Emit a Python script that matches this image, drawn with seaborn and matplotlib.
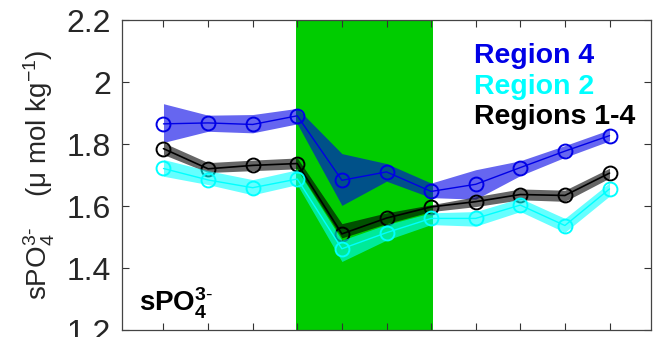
import matplotlib
matplotlib.use("Agg")
import matplotlib.pyplot as plt
import seaborn as sns
import numpy as np
import pandas as pd

# ---- data ----
x = [1, 2, 3, 4, 5, 6, 7, 8, 9, 10, 11]

r4_mean = [1.865, 1.868, 1.863, 1.891, 1.683, 1.710, 1.647, 1.670, 1.724, 1.777, 1.827]
r4_upper = [1.930, 1.893, 1.895, 1.915, 1.769, 1.737, 1.674, 1.717, 1.746, 1.795, 1.846]
r4_lower = [1.805, 1.841, 1.836, 1.865, 1.602, 1.680, 1.627, 1.622, 1.698, 1.757, 1.810]

all_mean = [1.785, 1.720, 1.731, 1.737, 1.510, 1.561, 1.597, 1.614, 1.637, 1.634, 1.706]
all_upper = [1.804, 1.740, 1.748, 1.755, 1.543, 1.578, 1.604, 1.630, 1.655, 1.651, 1.722]
all_lower = [1.766, 1.708, 1.714, 1.720, 1.497, 1.543, 1.582, 1.598, 1.620, 1.615, 1.690]

r2_mean = [1.721, 1.684, 1.659, 1.687, 1.462, 1.514, 1.560, 1.560, 1.603, 1.537, 1.655]
r2_upper = [1.750, 1.714, 1.685, 1.717, 1.490, 1.540, 1.578, 1.582, 1.625, 1.560, 1.675]
r2_lower = [1.696, 1.669, 1.636, 1.669, 1.421, 1.490, 1.540, 1.535, 1.582, 1.515, 1.632]

series_names = ["Region 4", "Region 2", "Regions 1-4"]
yticks = [1.2, 1.4, 1.6, 1.8, 2.0, 2.2]
ytick_labels = ["1.2", "1.4", "1.6", "1.8", "2", "2.2"]

# ---- style ----
sns.set_style("ticks")
plt.rcParams["font.family"] = ["Liberation Sans", "DejaVu Sans"]
plt.rcParams["mathtext.fontset"] = "custom"
plt.rcParams["mathtext.rm"] = "Liberation Sans"
plt.rcParams["mathtext.it"] = "Liberation Sans"
plt.rcParams["mathtext.bf"] = "Liberation Sans:bold"
plt.rcParams["mathtext.default"] = "regular"

fig = plt.figure(figsize=(6.54, 3.37), dpi=100)
ax = fig.add_axes([122 / 654, 7 / 337, (651 - 122) / 654, (330 - 20) / 337])

green = "#00cc00"
ax.axvspan(3.97, 7.04, color=green, zorder=0, lw=0)

blue = "#0000e6"
cyan = "#00ffff"
black = "#000000"

def draw(mean, lo, hi, col, lw, z):
    ax.fill_between(x, lo, hi, color=col, alpha=0.6, lw=0, zorder=z)
    df = pd.DataFrame({"x": x, "y": mean})
    sns.lineplot(data=df, x="x", y="y", ax=ax, color=col, lw=lw, marker="o",
                 markersize=10, markerfacecolor="none", markeredgecolor=col,
                 markeredgewidth=1.4, zorder=z + 0.5)

draw(r4_mean, r4_lower, r4_upper, blue, 1.0, 2)
draw(all_mean, all_lower, all_upper, black, 1.2, 3)
draw(r2_mean, r2_lower, r2_upper, cyan, 1.0, 4)

ax.set_xlim(0.07, 11.93)
ax.set_ylim(1.2, 2.2)
ax.set_xticks(x)
ax.set_xticklabels([])
ax.set_yticks(yticks)
ax.set_yticklabels(ytick_labels, fontsize=23)
ax.set_xlabel("")
ax.set_ylabel(r"sPO$_4^{3\text{-}}$    ($\mu$ mol kg$^{-1}$)", fontsize=20, labelpad=7)
ax.tick_params(direction="in", length=5, width=0.8, top=True, right=True,
               color="#333333", pad=8)
for s in ax.spines.values():
    s.set_visible(True)
    s.set_color("#444444")
    s.set_linewidth(0.9)

ax.text(0.665, 0.885, series_names[0], transform=ax.transAxes, color=blue,
        fontsize=20.5, fontweight="bold", va="center", ha="left")
ax.text(0.665, 0.785, series_names[1], transform=ax.transAxes, color=cyan,
        fontsize=20.5, fontweight="bold", va="center", ha="left")
ax.text(0.665, 0.688, series_names[2], transform=ax.transAxes, color=black,
        fontsize=20.5, fontweight="bold", va="center", ha="left")
ax.text(0.032, 0.085, r"sPO$_4^{3\text{-}}$", transform=ax.transAxes, color="black",
        fontsize=20, fontweight="bold", va="center", ha="left")

fig.savefig("out.png", dpi=100)
